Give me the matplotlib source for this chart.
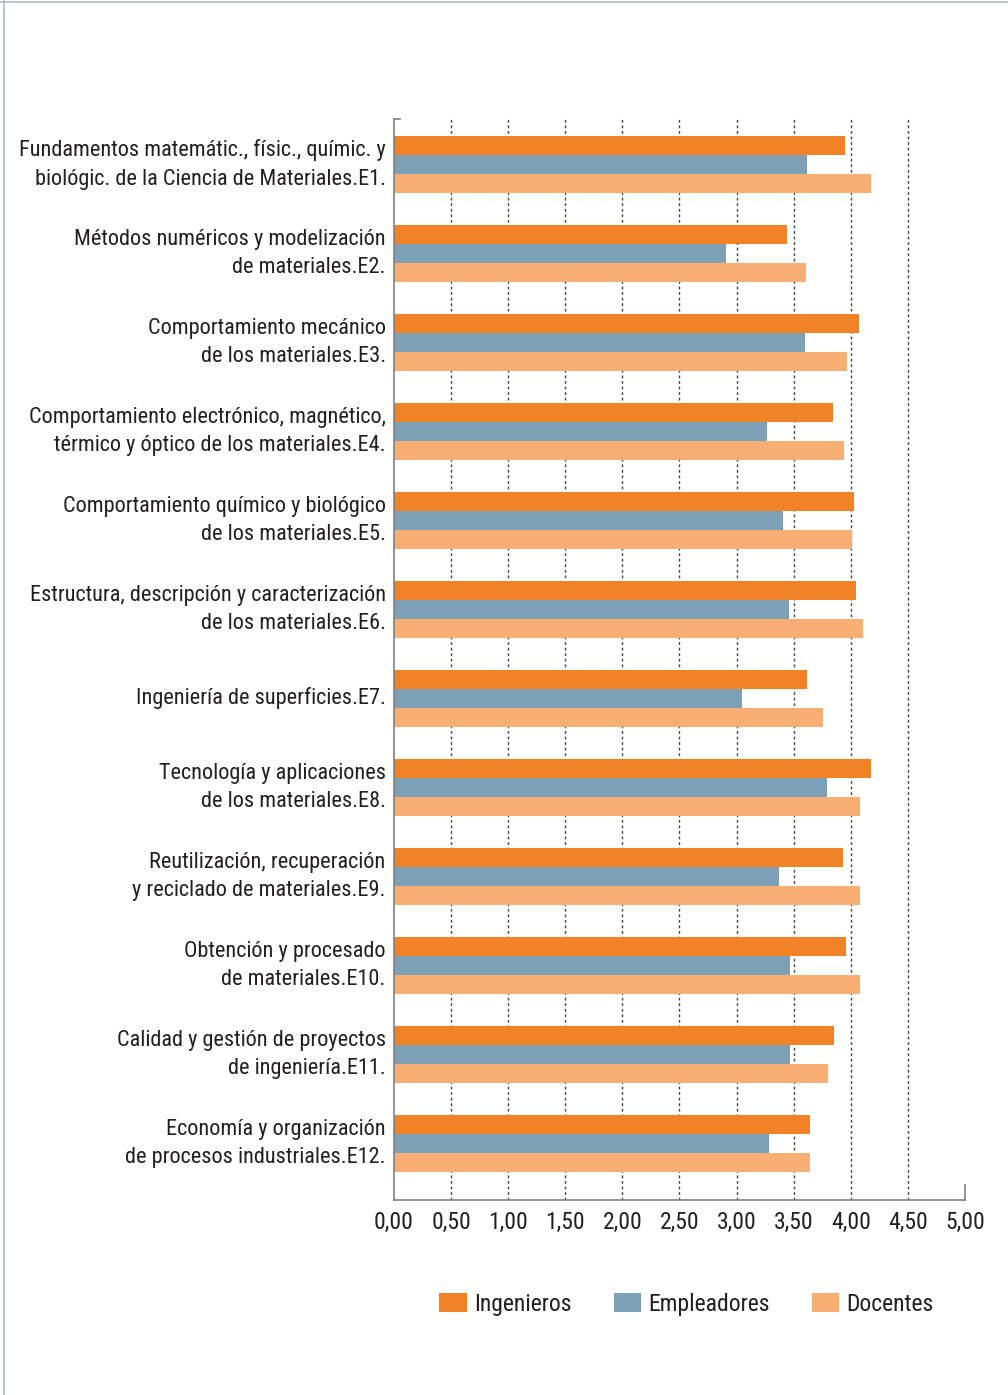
import numpy as np
import matplotlib.pyplot as plt
from matplotlib import font_manager
from matplotlib.lines import Line2D

# pick a condensed face if one is installed, otherwise plain sans
entries = font_manager.fontManager.ttflist
font_props = dict(family="DejaVu Sans")
for e in entries:
    if e.name in ("Liberation Sans Narrow", "Roboto Condensed", "Open Sans Condensed",
                  "DejaVu Sans Condensed", "Noto Sans Condensed"):
        font_props = dict(family=e.name)
        break
else:
    for e in entries:
        if e.name in ("DejaVu Sans", "Noto Sans", "Open Sans", "Roboto") and \
                str(e.stretch) in ("condensed", "semi-condensed", "500", "ultra-condensed", "extra-condensed") \
                and e.style == "normal" and e.weight in (400, "normal", "regular"):
            font_props = dict(family=e.name, stretch=e.stretch)
            break

plt.rcParams['font.family'] = [font_props["family"], "DejaVu Sans"]
if "stretch" in font_props:
    plt.rcParams['font.stretch'] = font_props["stretch"]

# competence labels (top to bottom)
labels = [
    "Fundamentos matemátic., físic., químic. y\nbiológic. de la Ciencia de Materiales.E1.",
    "Métodos numéricos y modelización\nde materiales.E2.",
    "Comportamiento mecánico\nde los materiales.E3.",
    "Comportamiento electrónico, magnético,\ntérmico y óptico de los materiales.E4.",
    "Comportamiento químico y biológico\nde los materiales.E5.",
    "Estructura, descripción y caracterización\nde los materiales.E6.",
    "Ingeniería de superficies.E7.",
    "Tecnología y aplicaciones\nde los materiales.E8.",
    "Reutilización, recuperación\ny reciclado de materiales.E9.",
    "Obtención y procesado\nde materiales.E10.",
    "Calidad y gestión de proyectos\nde ingeniería.E11.",
    "Economía y organización\nde procesos industriales.E12.",
]

ingenieros = [3.95, 3.44, 4.07, 3.84, 4.03, 4.05, 3.62, 4.18, 3.93, 3.96, 3.85, 3.64]
empleadores = [3.62, 2.91, 3.60, 3.27, 3.41, 3.46, 3.05, 3.79, 3.37, 3.47, 3.47, 3.28]
docentes = [4.18, 3.61, 3.97, 3.94, 4.01, 4.11, 3.76, 4.08, 4.08, 4.08, 3.80, 3.64]

series = ["Ingenieros", "Empleadores", "Docentes"]
colors = ["#F28226", "#7EA0B6", "#F9AE74"]

xticks = np.arange(0, 5.01, 0.5)
xticklabels = [f"{v:.2f}".replace(".", ",") for v in xticks]

text_color = "#231F20"

fig = plt.figure(figsize=(10.08, 13.95), dpi=100)

# shrink the font until the widest label line fits the space left of the axes (~368 px)
renderer = fig.canvas.get_renderer()
longest = "Fundamentos matemátic., físic., químic. y"
fs = 17.0
while fs > 9:
    t = fig.text(0, 0, longest, fontsize=fs)
    w = t.get_window_extent(renderer).width
    t.remove()
    if w <= 368:
        break
    fs -= 0.25

ax = fig.add_axes([0.3909, 0.1398, 0.5664, 0.7749])

y = np.arange(len(labels))
h = 0.213
for i, (vals, c, name) in enumerate(zip([ingenieros, empleadores, docentes], colors, series)):
    ax.barh(y + (i - 1) * h, vals, height=h, color=c, label=name, zorder=2)

# dotted vertical gridlines
for gx in xticks[1:-1]:
    ax.axvline(gx, color="#444444", linestyle=(0, (2, 2)), linewidth=1.0, zorder=1)

ax.set_xlim(0, 5)
ax.set_ylim(11.635, -0.511)
ax.set_xticks(xticks)
ax.set_xticklabels(xticklabels, fontsize=fs + 1, color=text_color)
ax.set_yticks(y)
ax.set_yticklabels(labels, fontsize=fs, color=text_color, linespacing=1.45)
for lab in ax.get_yticklabels():
    lab.set_verticalalignment("center")
ax.tick_params(axis="both", length=0)
ax.tick_params(axis="y", pad=6)
ax.tick_params(axis="x", pad=8)

for s in ["top", "right"]:
    ax.spines[s].set_visible(False)
for s in ["left", "bottom"]:
    ax.spines[s].set_color("#808080")
    ax.spines[s].set_linewidth(1.2)

# small caps at ends of axes
ax.plot([0, 0.01], [1, 1], transform=ax.transAxes, color="#808080", lw=1.2, clip_on=False)
ax.plot([1, 1], [0, 0.014], transform=ax.transAxes, color="#808080", lw=1.2, clip_on=False)

fig.legend(loc="center", bbox_to_anchor=(0.681, 0.065), ncol=3, frameon=False,
           fontsize=fs + 1, handlelength=1.15, handleheight=0.9, handletextpad=0.3,
           columnspacing=1.8, labelcolor=text_color)

# page border
fig.add_artist(Line2D([0, 1], [0.9985, 0.9985], color="#B0BCC8", lw=1.2))
fig.add_artist(Line2D([0.0035, 0.0035], [0, 1], color="#B0BCC8", lw=1.2))

fig.savefig("out.png", dpi=100)
